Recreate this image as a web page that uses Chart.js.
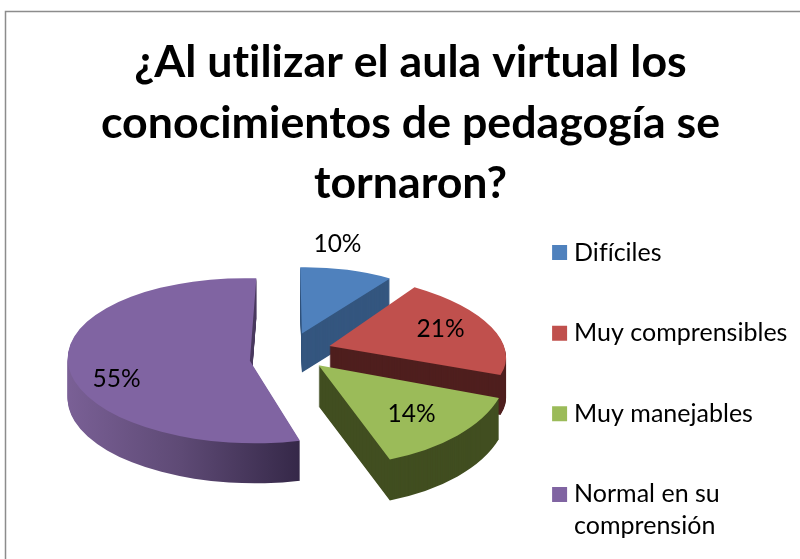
<!DOCTYPE html>
<html><head><meta charset="utf-8">
<style>html,body{margin:0;padding:0;background:#fff}canvas{display:block}</style>
<script src="https://cdn.jsdelivr.net/npm/chart.js@4"></script>
</head><body><canvas id="c" width="800" height="559" style="width:800px;height:559px"></canvas>
<script>
const titleLines = ['¿Al utilizar el aula virtual los','conocimientos de pedagogía se','tornaron?'];
const categories = ['Difíciles','Muy comprensibles','Muy manejables','Normal en su comprensión'];
const legendLines = [['Difíciles'],['Muy comprensibles'],['Muy manejables'],['Normal en su','comprensión']];
const values = [10,21,14,55];
const valueLabels = ['10%','21%','14%','55%'];
const topColors = ['#4f81bd','#c0504d','#9bbb59','#8064a2'];
const sideColors = ['#34567f','#4f1f1e','#414e20',null];
const purpleRimStops = ['#7a6096','#5e4a75','#352848'];
const drawOrder = [0,1,3,2];
const labelRadial = [1.2,0.7,0.7,0.7];
const labelNudge = [[-17,-15],[-1,-2],[-3,2],[-7,16]];
// camera model of the tilted, exploded pie
const cam = {cx:289.5, cy:351, r:175.5, explode:41.6, dist:1200, tilt:0.46, depth:40};
const FONT = 'Lato, Carlito, Calibri, sans-serif';

function project(X,Y){const g=cam.dist/(cam.dist-Y);return [cam.cx+X*g, cam.cy+cam.tilt*Y*g, g];}
function groundPoint(mid,rho,th){
  return [cam.explode*Math.cos(mid)+rho*Math.cos(th), cam.explode*Math.sin(mid)+rho*Math.sin(th)];
}
function solve3(M,b){
  const A=M.map((r,i)=>[...r,b[i]]);
  for(let i=0;i<3;i++){
    let p=i;for(let k=i+1;k<3;k++)if(Math.abs(A[k][i])>Math.abs(A[p][i]))p=k;
    [A[i],A[p]]=[A[p],A[i]];
    for(let k=0;k<3;k++){if(k===i)continue;const f=A[k][i]/A[i][i];for(let j=i;j<4;j++)A[k][j]-=f*A[i][j];}
  }
  return [A[0][3]/A[0][0],A[1][3]/A[1][1],A[2][3]/A[2][2]];
}
// least-squares affine from the arc's own geometry to the projected ground plane
function sliceAffine(arc){
  const s=arc.startAngle,e=arc.endAngle,mid=(s+e)/2,R=arc.outerRadius;
  const pts=[];
  const add=(u,v,w,rho,th)=>{const G=groundPoint(mid,rho,th);const P=project(G[0],G[1]);pts.push({u,v,w,x:P[0],y:P[1]});};
  add(0,0,14,0,0);
  for(let i=0;i<=12;i++){const th=s+(e-s)*i/12;add(Math.cos(th),Math.sin(th),(i===0||i===12)?8:1,cam.r,th);}
  const M=[[0,0,0],[0,0,0],[0,0,0]],bx=[0,0,0],by=[0,0,0];
  pts.forEach(p=>{const q=[p.u,p.v,1];for(let i=0;i<3;i++){for(let j=0;j<3;j++)M[i][j]+=p.w*q[i]*q[j];bx[i]+=p.w*q[i]*p.x;by[i]+=p.w*q[i]*p.y;}});
  const X=solve3(M,bx),Y=solve3(M,by);
  return {a:X[0]/R,c:X[1]/R,e:X[2]-X[0]*arc.x/R-X[1]*arc.y/R,b:Y[0]/R,d:Y[1]/R,f:Y[2]-Y[0]*arc.x/R-Y[1]*arc.y/R};
}
const pie3d = {
  id:'pie3d',
  beforeDraw(chart){
    const ctx=chart.ctx;
    ctx.letterSpacing='0.01px';
    ctx.save();
    ctx.fillStyle='#fff';ctx.fillRect(0,0,800,559);
    ctx.strokeStyle='#8c8c8c';ctx.lineWidth=1.5;
    ctx.beginPath();ctx.moveTo(5.5,559);ctx.lineTo(5.5,11.5);ctx.lineTo(800,11.5);ctx.stroke();
    ctx.restore();
  },
  afterLayout(chart){
    const t=chart.titleBlock,l=chart.legend;
    t.left=21;t.right=800;t.top=33;t.bottom=219;
    l.left=509;l.right=800;l.top=191.5;l.bottom=559;
  },
  beforeDatasetsDraw(chart){
    const ctx=chart.ctx,meta=chart.getDatasetMeta(0);
    drawOrder.forEach(i=>{
      const arc=meta.data[i],T=sliceAffine(arc),o=arc.options,top=o.backgroundColor;
      const Y=groundPoint((arc.startAngle+arc.endAngle)/2,0,0)[1];
      const dz=Math.round(cam.depth*cam.dist/(cam.dist-Y));
      ctx.save();
      let side=sideColors[i];
      if(!side){
        const g=ctx.createLinearGradient(arc.x-arc.outerRadius,0,arc.x+0.31*arc.outerRadius,0);
        purpleRimStops.forEach((c,k)=>g.addColorStop(k/(purpleRimStops.length-1),c));
        side=g;
      }
      o.backgroundColor=side;
      for(let z=dz;z>=1;z--){
        ctx.save();ctx.translate(0,z);ctx.transform(T.a,T.b,T.c,T.d,T.e,T.f);arc.draw(ctx);ctx.restore();
      }
      o.backgroundColor=top;
      ctx.save();ctx.transform(T.a,T.b,T.c,T.d,T.e,T.f);arc.draw(ctx);ctx.restore();
      ctx.restore();
    });
    // value labels
    ctx.save();
    ctx.fillStyle='#000';ctx.font='24.5px '+FONT;ctx.textAlign='center';ctx.textBaseline='middle';
    meta.data.forEach((arc,i)=>{
      const mid=(arc.startAngle+arc.endAngle)/2;
      const G=groundPoint(mid,cam.r*labelRadial[i],mid),P=project(G[0],G[1]);
      ctx.fillText(valueLabels[i],P[0]+labelNudge[i][0],P[1]+labelNudge[i][1]);
    });
    ctx.restore();
    return false;
  }
};
const baseLabels = Chart.overrides.pie.plugins.legend.labels.generateLabels;
new Chart(document.getElementById('c'),{
  type:'pie',
  data:{labels:categories,datasets:[{data:values,backgroundColor:topColors,borderWidth:0,offset:0}]},
  plugins:[pie3d],
  options:{
    responsive:false,animation:false,
    plugins:{
      tooltip:{enabled:false},
      title:{display:true,text:titleLines,color:'#000',align:'center',padding:0,
        font:{family:FONT,size:44.7,weight:'bold',lineHeight:1.345}},
      legend:{display:true,position:'right',align:'start',
        labels:{color:'#000',usePointStyle:true,boxWidth:4,boxHeight:15,padding:48.6,
          font:{family:FONT,size:25,lineHeight:1.28},
          generateLabels(chart){return baseLabels(chart).map((it,i)=>({...it,text:legendLines[i],lineWidth:0,pointStyle:'rect'}));}}}
    }
  }
});
</script></body></html>
